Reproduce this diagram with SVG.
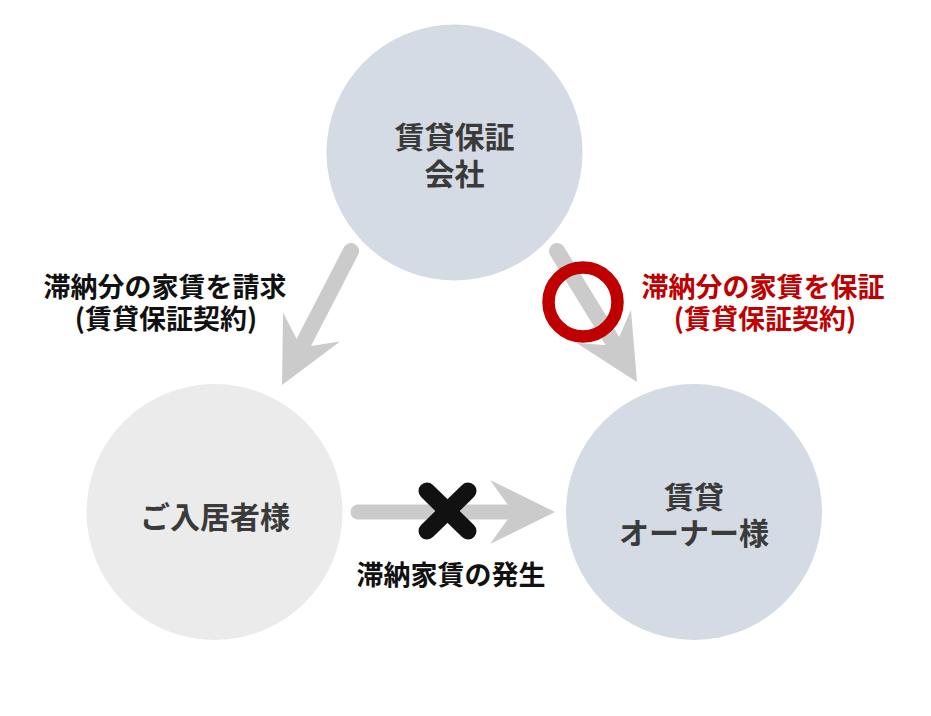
<svg xmlns="http://www.w3.org/2000/svg" width="931" height="716" viewBox="0 0 931 716">
<defs>
<style>
.node-blue{fill:#d5dbe4}
.node-gray{fill:#ebebeb}
.ntext{font-family:"Noto Sans CJK JP","Noto Sans CJK SC",sans-serif;font-size:30px;font-weight:700;fill:#3a3a3a;text-anchor:middle;dominant-baseline:central}
.label{font-family:"Noto Sans CJK JP","Noto Sans CJK SC",sans-serif;font-size:27px;font-weight:700;text-anchor:middle;dominant-baseline:central}
.shaft{stroke:#cbcbcb;stroke-width:16;stroke-linecap:round;fill:none}
.head{fill:#cbcbcb}
</style>
<path id="ah" d="M0,0 L-65,-32 L-42,0 L-65,32 Z"/>
</defs>
<rect width="931" height="716" fill="#ffffff"/>
<g id="node-guarantor">
<circle class="node-blue" cx="454.5" cy="152.5" r="128"/>
<text class="ntext"><tspan x="454.5" y="135">賃貸保証</tspan><tspan x="454.5" y="172">会社</tspan></text>
</g>
<g id="node-tenant">
<circle class="node-gray" cx="214.5" cy="512" r="128"/>
<text class="ntext" x="215" y="515">ご入居者様</text>
</g>
<g id="node-owner">
<circle class="node-blue" cx="694" cy="512" r="128"/>
<text class="ntext"><tspan x="694" y="495">賃貸</tspan><tspan x="694" y="531">オーナー様</tspan></text>
</g>
<g id="connectors">
<line class="shaft" x1="351" y1="251" x2="304" y2="342"/>
<use href="#ah" class="head" transform="translate(282,385) rotate(117)"/>
<line class="shaft" x1="557" y1="251" x2="613" y2="342"/>
<use href="#ah" class="head" transform="translate(637,382) rotate(59)"/>
<line class="shaft" x1="358" y1="512" x2="515" y2="512" style="stroke-width:15"/>
<use href="#ah" class="head" transform="translate(555,512)"/>
</g>
<g id="marks">
<circle cx="583" cy="302" r="34.5" fill="none" stroke="#c00000" stroke-width="12.5"/>
<g stroke="#111111" stroke-width="17" stroke-linecap="round">
<line x1="427" y1="491" x2="468" y2="531"/>
<line x1="468" y1="491" x2="427" y2="531"/>
</g>
</g>
<g id="labels">
<text class="label" fill="#111111"><tspan x="165" y="285">滞納分の家賃を請求</tspan><tspan x="166" y="317">(賃貸保証契約)</tspan></text>
<text class="label" fill="#c00000"><tspan x="763" y="285">滞納分の家賃を保証</tspan><tspan x="765" y="317">(賃貸保証契約)</tspan></text>
<text class="label" x="451" y="573" fill="#111111">滞納家賃の発生</text>
</g>
</svg>
